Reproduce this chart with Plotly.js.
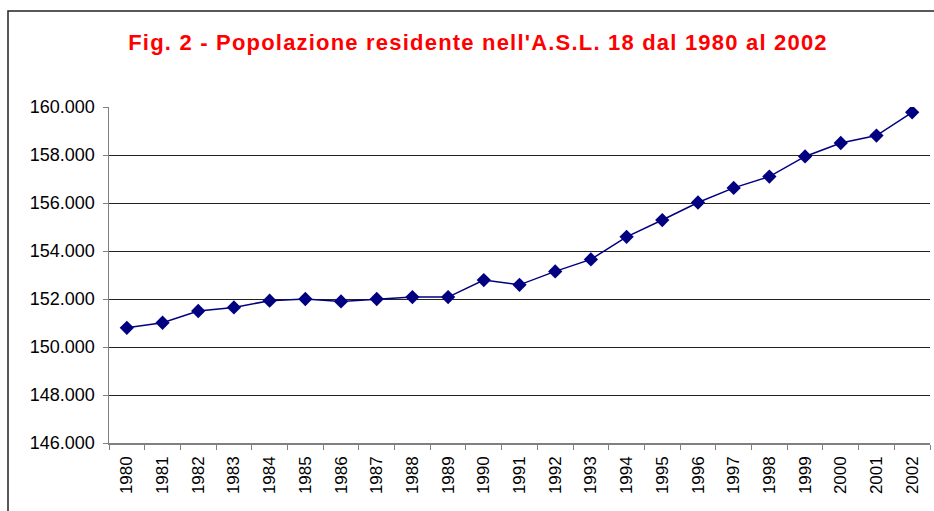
<!DOCTYPE html>
<html>
<head>
<meta charset="utf-8">
<script src="https://cdn.plot.ly/plotly-3.0.1.min.js"></script>
<style>html,body{margin:0;padding:0;background:#fff;}#chart{width:934px;height:511px;}
.gtitle{letter-spacing:1.2px;}</style>
</head>
<body>
<div id="chart"></div>
<script>
const years = ["1980","1981","1982","1983","1984","1985","1986","1987","1988","1989","1990","1991","1992","1993","1994","1995","1996","1997","1998","1999","2000","2001","2002"];
const population = [150800,151010,151500,151650,151930,152000,151900,152000,152080,152080,152790,152590,153150,153650,154590,155290,156020,156630,157100,157940,158500,158810,159780];
const yTicks = [146000,148000,150000,152000,154000,156000,158000,160000];
const titleText = "Fig. 2 - Popolazione residente nell'A.S.L. 18 dal 1980 al 2002";

const W = 934, H = 511;
const m = {l:109, r:4, t:107, b:68};
const pw = W - m.l - m.r, ph = H - m.t - m.b;
const px = x => (x - m.l) / pw;
const py = y => 1 - (y - m.t) / ph;

const trace = {
  x: years, y: population, type: 'scatter', mode: 'lines+markers',
  line: {color: '#000080', width: 1.5},
  marker: {symbol: 'diamond', size: 11, color: '#000080'},
  hoverinfo: 'x+y'
};

const layout = {
  width: W, height: H,
  margin: m,
  paper_bgcolor: '#fff', plot_bgcolor: '#fff',
  separators: ',.',
  showlegend: false,
  font: {family: 'Liberation Sans, Arial, sans-serif', color: '#000'},
  title: {text: titleText, font: {size: 22, color: '#ff0000', family: 'Liberation Sans, Arial, sans-serif', weight: 'bold'},
          x: px(478), xref: 'paper', xanchor: 'center', y: 1 - 42/H, yref: 'container', yanchor: 'middle'},
  xaxis: {
    type: 'category', tickson: 'boundaries', ticks: 'outside', ticklen: 5, tickcolor: '#808080', tickwidth: 1,
    showline: true, linecolor: '#808080', linewidth: 1.5, showgrid: false, zeroline: false,
    tickangle: -90, tickfont: {size: 17, color: '#000'}, ticklabelstandoff: 5,
    range: [-0.5, years.length - 0.5]
  },
  yaxis: {
    range: [146000, 160000], tickvals: yTicks, tickformat: ',d',
    ticks: 'outside', ticklen: 5, tickcolor: '#808080', tickwidth: 1,
    showline: true, linecolor: '#808080', linewidth: 1.5,
    showgrid: true, gridcolor: '#222', gridwidth: 1, zeroline: false,
    tickfont: {size: 18, color: '#000'}, ticklabelstandoff: 4
  },
  shapes: [{
    type: 'rect', xref: 'paper', yref: 'paper',
    x0: px(8), x1: px(W + 20), y0: py(H + 20), y1: py(11),
    line: {color: '#222', width: 1.5}, fillcolor: 'rgba(0,0,0,0)', layer: 'below'
  }]
};

Plotly.newPlot('chart', [trace], layout, {displayModeBar: false, staticPlot: true});
</script>
</body>
</html>
